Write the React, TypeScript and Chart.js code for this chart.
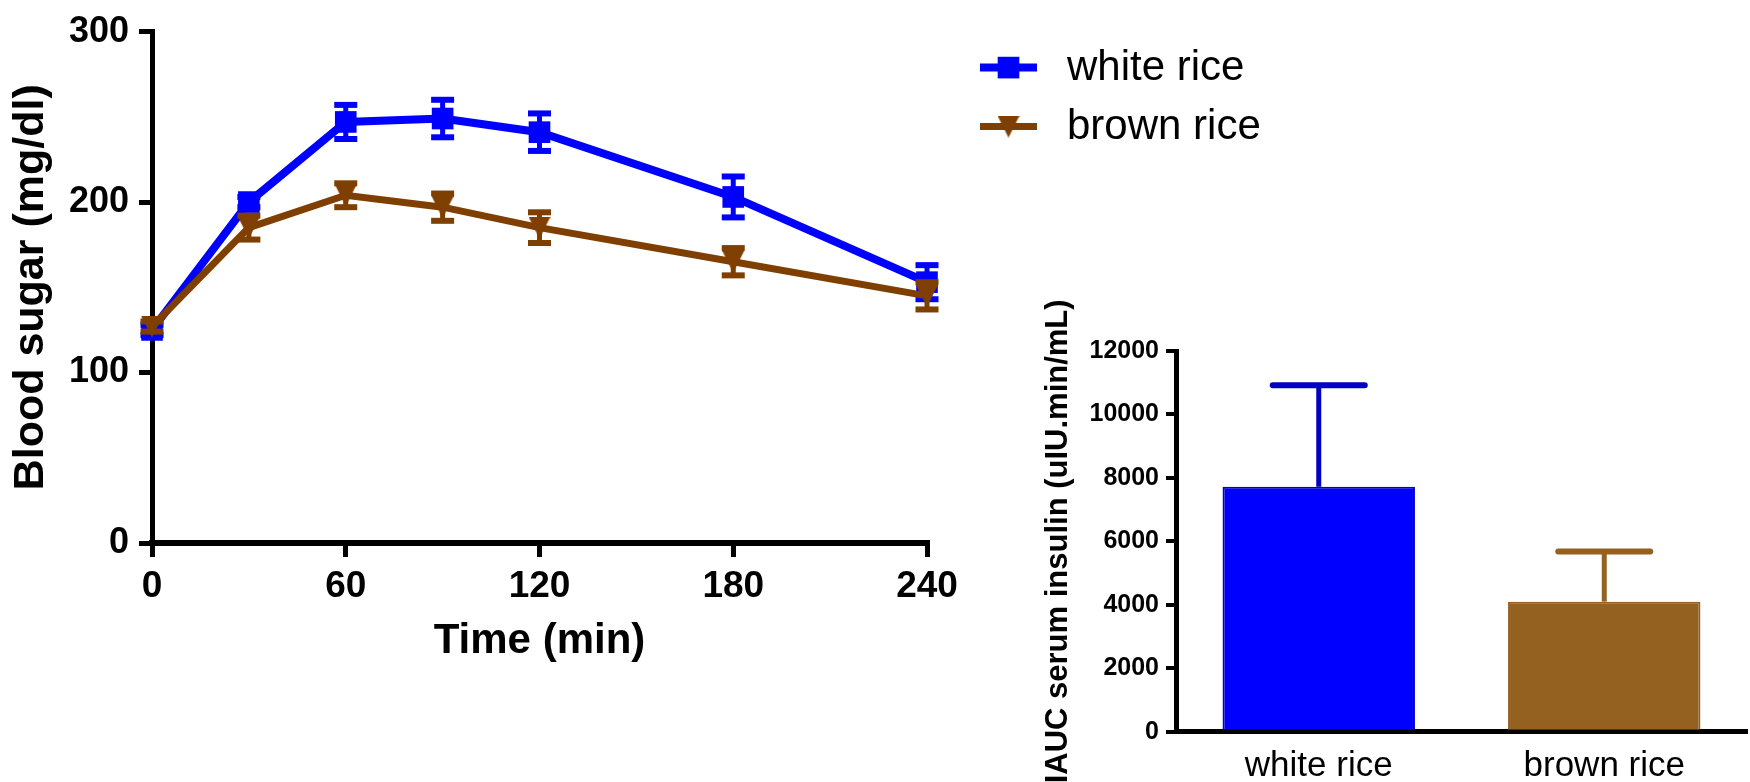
import React, { useEffect, useRef } from "react";
import { Chart, registerables } from "chart.js";
import { drawPoint } from "chart.js/helpers";

Chart.register(...registerables);

const FONT = "'Liberation Sans', Arial, Helvetica, sans-serif";

// Blood sugar time course (mean ± SEM)
const timePoints = [0, 30, 60, 90, 120, 180, 240];
const whiteRiceGlucose = [125, 200, 247, 249, 241, 203, 153];
const whiteRiceGlucoseErr = [3, 3, 10, 11, 11, 12, 10];
const brownRiceGlucose = [127, 185, 204, 197, 185, 165, 145];
const brownRiceGlucoseErr = [3, 7, 7, 8, 9, 8, 8];
const timeTicks = [0, 60, 120, 180, 240];
const glucoseTicks = [0, 100, 200, 300];

// Insulin incremental area under the curve (mean + SEM)
const riceTypes = ["white rice", "brown rice"];
const insulinAuc = [7720, 4100];
const insulinAucErr = [3200, 1580];
const insulinTicks = [0, 2000, 4000, 6000, 8000, 10000, 12000];

const WHITE_LINE = "#0000FF";
const BROWN_LINE = "#7F3F00";
const WHITE_BAR = "#0000FF";
const WHITE_BAR_EDGE = "#0000C4";
const BROWN_BAR = "#946120";

const LINE_W = 1300;
const LINE_H = 700;
const BAR_W = 750;
const BAR_H = 782;
const BAR_LEFT = 1000;

// Downward-pointing triangle marker used for the brown rice series
function downTriangle(color: string, size: number): HTMLCanvasElement {
  const c = document.createElement("canvas");
  c.width = size;
  c.height = size;
  const g = c.getContext("2d")!;
  g.fillStyle = color;
  g.beginPath();
  g.moveTo(0, 0);
  g.lineTo(size, 0);
  g.lineTo(size / 2, size);
  g.closePath();
  g.fill();
  return c;
}

// Draws error bars stored on each dataset (errorValues + errorStyle)
const errorBarPlugin = {
  id: "errorBars",
  afterDatasetDraw(chart: any, args: any) {
    const ds = chart.data.datasets[args.index];
    const errs: number[] | undefined = ds.errorValues;
    if (!errs) return;
    const meta = args.meta;
    const yScale = chart.scales[meta.yAxisID];
    const ctx: CanvasRenderingContext2D = chart.ctx;
    const st = ds.errorStyle;
    ctx.save();
    meta.data.forEach((el: any, i: number) => {
      const raw = ds.data[i];
      const v = typeof raw === "number" ? raw : raw.y;
      const e = errs[i];
      const colour = Array.isArray(st.color) ? st.color[i] : st.color;
      const x = el.x;
      const yTop = yScale.getPixelForValue(v + e);
      const yBottom = yScale.getPixelForValue(st.upOnly ? v : v - e);
      ctx.strokeStyle = colour;
      ctx.lineWidth = st.stemWidth;
      ctx.lineCap = "butt";
      ctx.beginPath();
      ctx.moveTo(x, yBottom);
      ctx.lineTo(x, yTop);
      ctx.stroke();
      ctx.lineWidth = st.capThickness;
      ctx.lineCap = st.capRound ? "round" : "butt";
      const caps = st.upOnly ? [yTop] : [yTop, yBottom];
      caps.forEach((cy) => {
        ctx.beginPath();
        ctx.moveTo(x - st.capWidth / 2, cy);
        ctx.lineTo(x + st.capWidth / 2, cy);
        ctx.stroke();
      });
    });
    ctx.restore();
  },
};

// Legend to the right of the plot: short line with the series marker, then the label
const seriesLegendPlugin = {
  id: "seriesLegend",
  afterDraw(chart: any) {
    const { ctx, chartArea } = chart;
    const x0 = chartArea.right + 53;
    const lineLength = 57;
    chart.data.datasets.forEach((ds: any, i: number) => {
      const y = chartArea.top + 36 + i * 59;
      ctx.save();
      ctx.strokeStyle = ds.borderColor;
      ctx.lineWidth = ds.borderWidth;
      ctx.lineCap = "butt";
      ctx.beginPath();
      ctx.moveTo(x0, y);
      ctx.lineTo(x0 + lineLength, y);
      ctx.stroke();
      ctx.fillStyle = ds.pointBackgroundColor;
      drawPoint(
        ctx,
        { pointStyle: ds.pointStyle, radius: ds.pointRadius, borderWidth: 0, rotation: 0 } as any,
        x0 + lineLength / 2,
        y
      );
      ctx.fillStyle = "#000";
      ctx.font = `42px ${FONT}`;
      ctx.textAlign = "left";
      ctx.textBaseline = "middle";
      ctx.fillText(ds.label, x0 + 87, y + 1);
      ctx.restore();
    });
  },
};

const axisGrid = (tickLength: number, tickWidth: number) => ({
  drawOnChartArea: false,
  drawTicks: true,
  tickLength,
  tickWidth,
  tickColor: "#000",
  color: "#000",
  lineWidth: tickWidth,
});

function lineConfig(): any {
  const triangle = downTriangle(BROWN_LINE, 22);
  return {
    type: "line",
    data: {
      datasets: [
        {
          label: "white rice",
          data: timePoints.map((t, i) => ({ x: t, y: whiteRiceGlucose[i] })),
          borderColor: WHITE_LINE,
          backgroundColor: WHITE_LINE,
          borderWidth: 8,
          tension: 0,
          pointStyle: "rect",
          pointRadius: 15.3,
          pointBackgroundColor: WHITE_LINE,
          pointBorderWidth: 0,
          clip: false,
          order: 1,
          errorValues: whiteRiceGlucoseErr,
          errorStyle: { color: WHITE_LINE, stemWidth: 5, capWidth: 23, capThickness: 6, capRound: false, upOnly: false },
        },
        {
          label: "brown rice",
          data: timePoints.map((t, i) => ({ x: t, y: brownRiceGlucose[i] })),
          borderColor: BROWN_LINE,
          backgroundColor: BROWN_LINE,
          borderWidth: 7,
          tension: 0,
          pointStyle: triangle,
          pointRadius: 11,
          pointBackgroundColor: BROWN_LINE,
          pointBorderWidth: 0,
          clip: false,
          order: 0,
          errorValues: brownRiceGlucoseErr,
          errorStyle: { color: BROWN_LINE, stemWidth: 5, capWidth: 23, capThickness: 6, capRound: false, upOnly: false },
        },
      ],
    },
    options: {
      responsive: false,
      animation: false,
      events: [],
      layout: { padding: { left: 0, top: 25, right: LINE_W - 927, bottom: LINE_H - 667 } },
      plugins: { legend: { display: false }, tooltip: { enabled: false } },
      scales: {
        x: {
          type: "linear",
          min: 0,
          max: 240,
          afterBuildTicks: (s: any) => {
            s.ticks = timeTicks.map((value) => ({ value }));
          },
          afterFit: (s: any) => {
            s.height = 667 - 543;
          },
          border: { display: true, color: "#000", width: 6 },
          grid: axisGrid(14, 5),
          ticks: {
            color: "#000",
            font: { family: FONT, size: 37, weight: "bold" },
            padding: 8,
            maxRotation: 0,
            autoSkip: false,
            callback: (v: any) => String(v),
          },
          title: {
            display: true,
            text: "Time (min)",
            color: "#000",
            font: { family: FONT, size: 42, weight: "bold" },
            padding: 0,
          },
        },
        y: {
          type: "linear",
          min: 0,
          max: 300,
          afterBuildTicks: (s: any) => {
            s.ticks = glucoseTicks.map((value) => ({ value }));
          },
          afterFit: (s: any) => {
            s.width = 152;
          },
          border: { display: true, color: "#000", width: 5 },
          grid: axisGrid(13, 5),
          ticks: {
            color: "#000",
            font: { family: FONT, size: 36, weight: "bold" },
            padding: 10,
            callback: (v: any) => String(v),
          },
          title: {
            display: true,
            text: "Blood sugar (mg/dl)",
            color: "#000",
            font: { family: FONT, size: 43, weight: "bold" },
            padding: { top: 5, bottom: 0 },
          },
        },
      },
    },
    plugins: [errorBarPlugin, seriesLegendPlugin],
  };
}

function barConfig(): any {
  return {
    type: "bar",
    data: {
      labels: riceTypes,
      datasets: [
        {
          data: insulinAuc,
          backgroundColor: [WHITE_BAR, BROWN_BAR],
          borderColor: [WHITE_BAR_EDGE, BROWN_BAR],
          borderWidth: 2,
          barPercentage: 0.674,
          categoryPercentage: 1,
          errorValues: insulinAucErr,
          errorStyle: {
            color: [WHITE_BAR_EDGE, BROWN_BAR],
            stemWidth: 5,
            capWidth: 92,
            capThickness: 6,
            capRound: true,
            upOnly: true,
          },
        },
      ],
    },
    options: {
      responsive: false,
      animation: false,
      events: [],
      layout: { padding: { left: 40, top: 351, right: 3, bottom: 0 } },
      plugins: { legend: { display: false }, tooltip: { enabled: false } },
      scales: {
        x: {
          z: 1,
          afterFit: (s: any) => {
            s.height = BAR_H - 731.7;
          },
          border: { display: true, color: "#000", width: 5 },
          grid: { display: false, drawTicks: false },
          ticks: {
            color: "#000",
            font: { family: FONT, size: 35 },
            padding: 14,
          },
        },
        y: {
          min: 0,
          max: 12000,
          afterBuildTicks: (s: any) => {
            s.ticks = insulinTicks.map((value) => ({ value }));
          },
          afterFit: (s: any) => {
            s.width = 176 - 40;
          },
          border: { display: true, color: "#000", width: 5 },
          grid: axisGrid(10, 4),
          ticks: {
            color: "#000",
            font: { family: FONT, size: 25, weight: "bold" },
            padding: 7,
            callback: (v: any) => String(v),
          },
          title: {
            display: true,
            text: "IAUC serum insulin (uIU.min/mL)",
            color: "#000",
            font: { family: FONT, size: 31, weight: "bold" },
            padding: 0,
          },
        },
      },
    },
    plugins: [errorBarPlugin],
  };
}

export default function App() {
  const lineRef = useRef<HTMLCanvasElement>(null);
  const barRef = useRef<HTMLCanvasElement>(null);

  useEffect(() => {
    const glucoseChart = new Chart(lineRef.current!, lineConfig());
    const insulinChart = new Chart(barRef.current!, barConfig());
    return () => {
      glucoseChart.destroy();
      insulinChart.destroy();
    };
  }, []);

  return (
    <div
      style={{
        position: "fixed",
        left: 0,
        top: 0,
        width: 1750,
        height: 782,
        background: "#fff",
        overflow: "hidden",
      }}
    >
      <canvas
        ref={lineRef}
        width={LINE_W}
        height={LINE_H}
        style={{ position: "absolute", left: 0, top: 0, width: LINE_W, height: LINE_H }}
      />
      <canvas
        ref={barRef}
        width={BAR_W}
        height={BAR_H}
        style={{ position: "absolute", left: BAR_LEFT, top: 0, width: BAR_W, height: BAR_H }}
      />
    </div>
  );
}
